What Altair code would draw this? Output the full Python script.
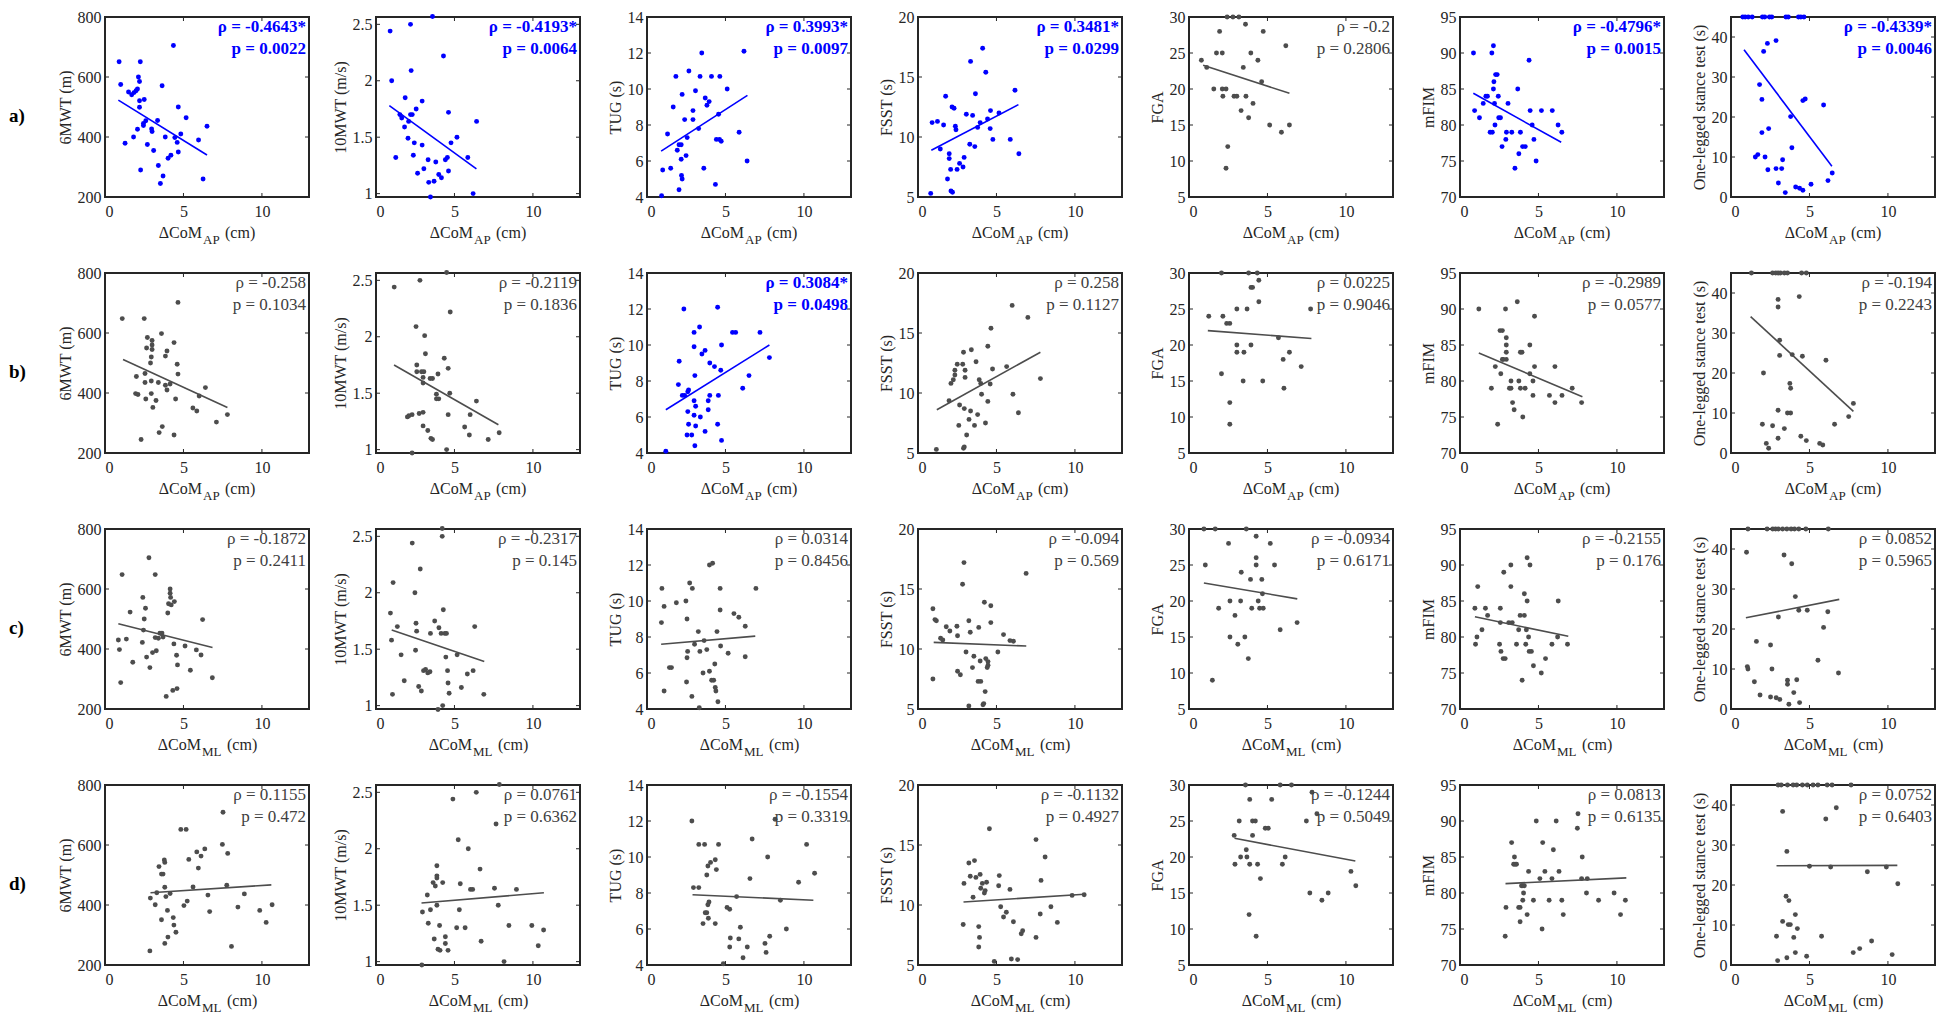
import altair as alt
import pandas as pd

FONT = "Liberation Serif"
BLUE = "#0000FF"
GRAY = "#4D4D4D"
INK = "#262626"
W, H = 204, 180

ROW_LABELS = ["a)", "b)", "c)", "d)"]
ROW_SUB = ["AP", "AP", "ML", "ML"]
Y_TITLES = ["6MWT (m)", "10MWT (m/s)", "TUG (s)", "FSST (s)", "FGA", "mFIM", "One-legged stance test (s)"]
Y_DOMAINS = [[200, 800], [0.97, 2.565], [4, 14], [5, 20], [5, 30], [70, 95], [0, 45]]
Y_TICKS = [[200, 400, 600, 800], [1, 1.5, 2, 2.5], [4, 6, 8, 10, 12, 14], [5, 10, 15, 20],
           [5, 10, 15, 20, 25, 30], [70, 75, 80, 85, 90, 95], [0, 10, 20, 30, 40]]
X_DOMAIN = [0, 13]
X_TICKS = [0, 5, 10]

RHO = [
    ["ρ = -0.4643*", "ρ = -0.4193*", "ρ = 0.3993*", "ρ = 0.3481*", "ρ = -0.2", "ρ = -0.4796*", "ρ = -0.4339*"],
    ["ρ = -0.258", "ρ = -0.2119", "ρ = 0.3084*", "ρ = 0.258", "ρ = 0.0225", "ρ = -0.2989", "ρ = -0.194"],
    ["ρ = -0.1872", "ρ = -0.2317", "ρ = 0.0314", "ρ = -0.094", "ρ = -0.0934", "ρ = -0.2155", "ρ = 0.0852"],
    ["ρ = 0.1155", "ρ = 0.0761", "ρ = -0.1554", "ρ = -0.1132", "ρ = -0.1244", "ρ = 0.0813", "ρ = 0.0752"],
]
PVAL = [
    ["p = 0.0022", "p = 0.0064", "p = 0.0097", "p = 0.0299", "p = 0.2806", "p = 0.0015", "p = 0.0046"],
    ["p = 0.1034", "p = 0.1836", "p = 0.0498", "p = 0.1127", "p = 0.9046", "p = 0.0577", "p = 0.2243"],
    ["p = 0.2411", "p = 0.145", "p = 0.8456", "p = 0.569", "p = 0.6171", "p = 0.176", "p = 0.5965"],
    ["p = 0.472", "p = 0.6362", "p = 0.3319", "p = 0.4927", "p = 0.5049", "p = 0.6135", "p = 0.6403"],
]

# fitted regression line end points: (x_start, y_start, x_end, y_end)
FIT = [
    [(0.85, 523, 6.5, 340), (0.85, 1.78, 6.4, 1.22), (0.9, 6.55, 6.4, 9.65), (0.85, 8.9, 6.4, 12.7),
     (0.9, 23.3, 6.4, 19.4), (0.85, 84.4, 6.45, 77.6), (0.83, 36.8, 6.43, 7.7)],
    [(1.15, 512, 7.8, 352), (1.15, 1.75, 7.8, 1.22), (1.2, 6.4, 7.8, 10.0), (1.2, 8.6, 7.8, 13.4),
     (1.2, 22.0, 7.8, 20.9), (1.2, 83.9, 7.8, 77.8), (1.25, 34.1, 7.8, 10.4)],
    [(0.85, 484, 6.85, 405), (1.0, 1.67, 6.9, 1.39), (0.9, 7.6, 6.9, 8.05), (1.0, 10.55, 6.9, 10.25),
     (0.95, 22.5, 6.9, 20.3), (0.95, 82.8, 6.9, 80.1), (0.95, 22.8, 6.9, 27.4)],
    [(2.9, 441, 10.6, 467), (2.9, 1.52, 10.7, 1.61), (2.9, 7.9, 10.6, 7.6), (2.9, 10.25, 10.6, 10.9),
     (2.9, 22.6, 10.6, 19.45), (2.9, 81.3, 10.6, 82.1), (2.9, 24.8, 10.6, 24.9)],
]

# ---------------- row a (ΔCoM_AP) ----------------
a_6mwt_x = [0.9, 1.0, 1.28, 1.5, 1.7, 1.85, 1.98, 2.07, 2.13, 2.2, 2.2, 2.2, 2.25, 2.27, 1.82, 2.07, 2.45, 2.45, 2.5, 2.6, 2.7, 2.97, 3.0, 3.1, 3.35, 3.4, 3.53, 3.7, 3.64, 3.84, 4.02, 4.2, 4.45, 4.36, 4.67, 4.6, 4.67, 4.83, 5.17, 5.96, 6.25, 6.5]
a_6mwt_y = [651, 575, 379, 550, 541, 548, 554, 560, 600, 585, 521, 499, 651, 290, 400, 426, 438, 445, 525, 454, 375, 427, 418, 355, 455, 305, 245, 270, 571, 400, 329, 339, 398, 705, 500, 382, 350, 410, 464, 390, 260, 436]
a_10mwt_x = [0.9, 1.0, 1.26, 1.52, 1.64, 1.86, 1.82, 2.04, 2.08, 2.2, 2.2, 2.24, 2.31, 2.38, 2.44, 2.56, 2.65, 2.94, 2.94, 3.05, 3.32, 3.36, 3.47, 3.6, 3.7, 3.81, 4.0, 4.17, 4.3, 4.42, 4.55, 4.62, 4.62, 4.78, 5.16, 5.85, 6.19, 6.41]
a_10mwt_y = [2.44, 2.0, 1.32, 1.70, 1.67, 1.85, 1.59, 1.49, 1.64, 1.70, 2.5, 2.09, 1.70, 1.34, 1.45, 1.75, 1.18, 1.82, 1.43, 1.22, 1.30, 1.10, 0.97, 2.57, 1.11, 1.28, 1.17, 1.14, 2.22, 1.30, 1.32, 1.20, 1.72, 1.45, 1.50, 1.32, 1.0, 1.64]
a_tug_x = [0.93, 1.0, 1.31, 1.51, 1.67, 1.84, 1.93, 2.04, 2.04, 2.18, 2.18, 2.2, 2.24, 2.24, 2.4, 2.49, 2.56, 2.67, 2.93, 2.93, 3.09, 3.29, 3.38, 3.49, 3.62, 3.71, 3.82, 3.96, 4.11, 4.36, 4.42, 4.56, 4.62, 4.64, 4.73, 5.11, 5.87, 6.18, 6.38]
a_tug_y = [4.07, 5.5, 7.5, 5.6, 9.0, 10.7, 6.6, 6.9, 4.4, 6.9, 6.1, 5.2, 5.0, 9.7, 8.3, 6.3, 7.3, 11.0, 8.8, 8.3, 9.9, 7.8, 10.7, 12.0, 5.6, 9.5, 9.1, 9.3, 10.7, 4.7, 7.2, 8.6, 7.2, 10.7, 7.1, 10.0, 7.6, 12.1, 6.0]
a_fsst_x = [0.81, 0.9, 1.24, 1.42, 1.63, 1.76, 1.88, 1.99, 1.99, 2.08, 2.1, 2.2, 2.17, 2.3, 2.38, 2.42, 2.49, 2.65, 2.87, 2.94, 3.08, 3.3, 3.35, 3.48, 3.62, 3.66, 3.8, 3.96, 4.12, 4.32, 4.43, 4.62, 4.6, 4.77, 5.16, 5.88, 6.18, 6.43]
a_fsst_y = [5.3, 11.2, 11.3, 9.0, 11.0, 13.4, 6.5, 8.6, 8.2, 7.3, 5.5, 5.4, 12.5, 12.4, 10.9, 10.6, 7.3, 7.8, 7.5, 8.3, 11.9, 9.4, 16.3, 11.8, 9.2, 13.6, 10.8, 11.2, 17.4, 15.4, 11.5, 12.2, 10.7, 9.8, 12.0, 9.8, 13.9, 8.6]
a_fga_x = [0.79, 1.13, 1.58, 1.95, 1.75, 2.12, 2.12, 2.16, 2.36, 2.43, 2.47, 2.36, 2.8, 3.18, 2.87, 3.05, 3.32, 3.46, 3.63, 3.6, 3.8, 3.94, 4.08, 4.39, 4.63, 4.73, 5.14, 5.89, 6.17, 6.4]
a_fga_y = [24, 23, 20, 28, 25, 25, 20, 19, 20, 30, 12, 9, 30, 30, 19, 19, 17, 23, 19, 29, 16, 25, 18, 24, 21, 28, 15, 14, 26, 15]
a_mfim_x = [0.86, 0.93, 1.24, 1.48, 1.65, 1.75, 1.92, 2.06, 2.03, 2.13, 2.13, 2.16, 2.2, 2.23, 2.27, 2.37, 2.44, 2.47, 2.58, 2.68, 2.92, 2.96, 3.06, 3.3, 3.5, 3.68, 3.75, 3.85, 3.99, 4.16, 4.4, 4.47, 4.6, 4.71, 4.85, 5.19, 5.88, 6.25, 6.49]
a_mfim_y = [90, 82, 81, 83, 84, 84, 79, 79, 90, 91, 85, 86, 83, 80, 87, 87, 84, 81, 81, 77, 78, 79, 83, 79, 74, 85, 76, 79, 77, 77, 89, 82, 80, 78, 75, 82, 82, 80, 79]
a_ols_x = [0.75, 0.9, 1.1, 1.35, 2.0, 2.15, 2.45, 2.6, 3.5, 3.65, 4.3, 4.45, 4.65,
           1.55, 1.71, 1.82, 1.97, 1.97, 2.08, 2.17, 2.32, 2.4, 2.35, 2.87, 2.87, 3.02, 3.29, 3.23, 3.46, 3.8, 3.88, 4.12, 4.37, 4.58, 4.58, 4.73, 5.1, 5.9, 6.18, 6.45]
a_ols_y = [45, 45, 45, 45, 45, 45, 45, 45, 45, 45, 45, 45, 45,
           10.0, 10.6, 28.1, 24.4, 16.1, 36.4, 10, 38.4, 17.1, 6.8, 39.1, 7.1, 3.5, 9.3, 7.1, 1.1, 20.1, 12.3, 2.5, 2.2, 1.7, 24.1, 24.5, 3.2, 23.0, 4.1, 6.0]

# ---------------- row b (ΔCoM_AP) ----------------
b_6mwt_x = [1.1, 2.0, 1.95, 2.1, 2.3, 2.5, 2.55, 2.55, 2.65, 2.7, 2.6, 2.9, 2.95, 3.0, 3.0, 3.0, 2.95, 3.05, 2.95, 3.25, 3.4, 3.45, 3.6, 3.65, 3.85, 3.95, 3.85, 3.95, 4.15, 4.4, 4.4, 4.5, 4.6, 4.65, 4.65, 6.4, 5.6, 5.85, 6.0, 7.1, 7.8]
b_6mwt_y = [648, 455, 398, 395, 245, 648, 465, 435, 550, 585, 380, 500, 520, 575, 560, 545, 398, 352, 440, 375, 435, 268, 598, 288, 523, 540, 426, 410, 430, 260, 568, 380, 496, 463, 702, 418, 350, 340, 390, 303, 328]
b_10mwt_x = [1.16, 2.8, 4.5, 4.73, 2.55, 3.1, 3.15, 4.35, 2.6, 2.6, 2.9, 3.05, 3.95, 4.6, 3.0, 3.45, 3.6, 3.0, 4.7, 3.85, 4.0, 3.85, 6.4, 2.0, 2.1, 2.3, 2.75, 3.0, 3.0, 3.3, 3.5, 3.6, 4.6, 6.0, 5.65, 5.95, 7.15, 7.85, 4.5, 2.3]
b_10mwt_y = [2.44, 2.5, 2.57, 2.22, 2.09, 2.01, 1.85, 1.81, 1.75, 1.69, 1.69, 1.69, 1.67, 1.72, 1.64, 1.63, 1.63, 1.59, 1.5, 1.49, 1.45, 1.45, 1.43, 1.29, 1.30, 1.31, 1.32, 1.33, 1.21, 1.17, 1.10, 1.09, 1.31, 1.31, 1.20, 1.13, 1.09, 1.15, 1.0, 0.97]
b_tug_x = [1.2, 2.05, 2.0, 2.25, 2.4, 2.35, 2.65, 2.6, 2.6, 2.65, 2.55, 2.85, 3.0, 3.0, 3.05, 3.0, 3.1, 3.0, 3.1, 3.05, 3.35, 3.5, 3.7, 3.4, 3.7, 3.9, 4.0, 3.9, 4.0, 4.3, 4.7, 4.5, 4.55, 4.5, 4.75, 4.75, 5.45, 5.65, 6.1, 6.5, 7.2, 7.8]
b_tug_y = [4.1, 9.1, 7.8, 7.2, 7.2, 12.0, 7.5, 7.4, 6.3, 5.6, 5.0, 5.0, 10.7, 9.9, 8.3, 6.9, 6.6, 6.1, 5.5, 4.4, 11.0, 9.5, 9.7, 6.0, 5.2, 6.4, 7.2, 6.9, 9.0, 8.8, 8.6, 12.1, 7.2, 5.6, 10.0, 4.7, 10.7, 10.7, 7.6, 8.3, 10.7, 9.3]
b_fsst_x = [1.17, 1.98, 2.1, 2.25, 2.35, 2.35, 2.5, 2.85, 2.65, 2.6, 2.9, 3.0, 3.0, 2.95, 2.9, 2.95, 3.1, 3.25, 3.35, 3.4, 3.6, 3.7, 3.8, 3.9, 4.0, 4.05, 4.3, 4.45, 4.45, 4.6, 4.65, 4.75, 5.65, 6.05, 6.0, 6.4, 7.0, 7.8]
b_fsst_y = [5.3, 9.35, 10.8, 11.1, 11.5, 11.9, 12.4, 12.4, 9.0, 7.3, 13.4, 11.9, 11.3, 8.7, 5.4, 5.5, 6.5, 7.8, 8.5, 13.6, 7.3, 12.6, 8.2, 11.1, 10.8, 9.9, 7.5, 9.3, 13.9, 10.75, 15.4, 12.0, 12.2, 9.9, 17.3, 8.35, 16.3, 11.2]
b_fga_x = [1.26, 2.07, 2.16, 2.4, 2.6, 2.07, 2.6, 2.6, 3.05, 3.05, 3.05, 3.5, 3.45, 3.7, 3.8, 4.35, 3.95, 4.05, 4.45, 4.45, 3.95, 4.7, 5.7, 6.0, 6.05, 6.4, 7.15, 7.75]
b_fga_y = [24, 30, 24, 23, 23, 16, 12, 9, 25, 20, 19, 19, 15, 25, 30, 30, 28, 28, 29, 26, 20, 15, 21, 18, 14, 19, 17, 25]
b_mfim_x = [1.2, 2.0, 2.25, 2.4, 2.55, 2.7, 2.6, 2.7, 2.75, 2.9, 2.95, 2.95, 2.95, 2.95, 3.15, 3.25, 3.25, 3.35, 3.45, 3.65, 3.75, 3.85, 3.95, 3.85, 4.0, 4.15, 4.45, 4.45, 4.65, 4.65, 4.75, 4.75, 5.7, 6.05, 6.05, 6.5, 7.15, 7.75]
b_mfim_y = [90, 79, 82, 74, 87, 87, 81, 83, 83, 90, 84, 85, 86, 83, 79, 79, 80, 77, 76, 91, 80, 84, 84, 79, 75, 79, 85, 81, 80, 78, 89, 82, 78, 82, 77, 78, 79, 77]
b_ols_x = [1.3, 2.65, 2.85, 3.0, 3.15, 3.4, 3.6, 4.5, 4.8,
           2.07, 2.0, 2.25, 2.4, 2.65, 3.0, 3.0, 3.1, 3.1, 3.0, 3.0, 3.4, 3.6, 3.8, 3.75, 3.8, 3.9, 4.35, 4.55, 4.45, 4.8, 5.65, 5.85, 6.05, 6.6, 7.5, 7.8]
b_ols_y = [45, 45, 45, 45, 45, 45, 45, 45, 45,
           20, 7.2, 2.4, 1.2, 6.8, 38.4, 36.5, 28.2, 24.4, 10.7, 3.7, 6.1, 10, 10, 17.4, 16.2, 24.6, 39.1, 24.2, 4.2, 3.1, 2.4, 2.0, 23.2, 7.2, 9.1, 12.4]

# ---------------- row c (ΔCoM_ML) ----------------
c_6mwt_x = [0.85, 0.92, 1.09, 1.0, 1.36, 1.6, 1.77, 2.41, 2.58, 2.5, 2.45, 2.38, 2.65, 2.8, 2.86, 3.03, 3.2, 3.27, 3.2, 3.4, 3.5, 3.6, 3.63, 3.7, 3.9, 4.0, 4.05, 4.15, 4.15, 4.18, 4.22, 4.42, 4.32, 4.39, 4.59, 4.56, 4.62, 5.1, 5.44, 5.82, 6.12, 6.22, 6.84]
c_6mwt_y = [430, 398, 648, 288, 433, 523, 356, 572, 536, 500, 463, 422, 373, 704, 338, 388, 648, 394, 438, 436, 453, 451, 453, 440, 242, 520, 551, 600, 586, 572, 547, 558, 262, 417, 268, 379, 347, 410, 329, 397, 380, 498, 304]
c_10mwt_x = [0.92, 0.99, 1.09, 1.05, 1.36, 1.6, 1.8, 2.31, 2.48, 2.55, 2.59, 2.52, 2.72, 2.82, 2.89, 3.03, 3.16, 3.3, 3.44, 3.47, 3.74, 3.95, 4.01, 4.15, 4.39, 4.49, 4.22, 4.22, 4.29, 4.25, 4.45, 4.56, 4.59, 4.66, 5.17, 5.44, 5.82, 6.19, 6.29, 6.87]
c_10mwt_y = [1.82, 1.58, 2.09, 1.10, 1.70, 1.45, 1.22, 2.44, 2.0, 1.73, 1.66, 1.49, 1.17, 2.21, 1.13, 1.31, 1.32, 1.29, 1.30, 1.64, 1.75, 0.965, 1.69, 1.64, 1.64, 1.64, 2.57, 2.5, 1.85, 1.0, 1.43, 1.31, 1.20, 1.11, 1.45, 1.16, 1.28, 1.31, 1.70, 1.10]
c_tug_x = [0.95, 0.92, 1.09, 1.09, 1.43, 1.56, 1.87, 2.48, 2.55, 2.55, 2.59, 2.52, 2.72, 2.89, 2.86, 3.03, 3.27, 3.33, 3.37, 3.57, 3.64, 3.81, 3.98, 4.18, 3.98, 4.12, 4.25, 4.32, 4.35, 4.39, 4.46, 4.52, 4.66, 4.66, 4.69, 5.17, 5.54, 5.85, 6.26, 6.26, 6.94]
c_tug_y = [10.7, 8.8, 9.7, 5.0, 6.3, 6.3, 9.9, 10.0, 9.0, 6.85, 7.2, 5.5, 11.0, 10.7, 4.7, 7.6, 8.3, 4.07, 7.2, 6.0, 7.8, 7.3, 12.0, 12.1, 6.1, 5.6, 5.6, 6.5, 5.2, 5.0, 8.3, 4.4, 10.7, 9.5, 7.5, 7.1, 9.3, 9.1, 8.6, 6.9, 10.7]
c_fsst_x = [0.95, 1.08, 1.17, 0.95, 1.44, 1.58, 1.8, 2.03, 2.48, 2.52, 2.52, 2.7, 2.93, 2.84, 3.06, 3.24, 3.33, 3.24, 3.47, 3.56, 3.83, 4.0, 3.87, 3.96, 4.19, 4.14, 4.28, 4.23, 4.64, 4.41, 4.46, 4.32, 4.46, 4.64, 5.09, 5.45, 5.86, 6.08, 6.89]
c_fsst_y = [13.35, 12.45, 12.35, 7.5, 10.9, 10.75, 11.85, 11.5, 11.9, 11.1, 8.15, 7.85, 17.2, 15.4, 9.75, 12.35, 11.4, 5.25, 8.45, 9.4, 7.3, 7.3, 11.8, 9.0, 5.45, 5.35, 6.45, 13.9, 13.6, 8.45, 8.65, 9.2, 8.95, 12.2, 9.75, 11.2, 10.7, 10.65, 16.3]
c_fga_x = [0.95, 1.67, 1.04, 1.49, 1.89, 2.52, 2.61, 2.61, 2.93, 3.11, 3.29, 3.33, 3.56, 3.65, 3.78, 3.92, 4.0, 4.28, 4.28, 4.28, 4.41, 4.5, 4.73, 4.64, 4.68, 5.18, 5.45, 5.81, 6.89]
c_fga_y = [30, 30, 25, 9, 19, 28, 20, 15, 18, 14, 20, 24, 15, 30, 12, 23, 19, 29, 26, 25, 20, 19, 19, 23, 21, 28, 25, 16, 17]
c_mfim_x = [0.95, 0.99, 1.08, 1.13, 1.4, 1.62, 1.76, 2.52, 2.57, 2.57, 2.61, 2.75, 2.88, 2.79, 3.11, 3.33, 3.24, 3.24, 3.6, 3.74, 3.83, 3.96, 4.1, 4.1, 4.19, 4.23, 4.37, 4.28, 4.28, 4.46, 4.41, 4.55, 4.68, 5.18, 5.45, 5.86, 6.22, 6.26, 6.85]
c_mfim_y = [84, 79, 80, 87, 81, 84, 83, 79, 84, 82, 78, 77, 77, 89, 82, 82, 90, 87, 79, 81, 83, 74, 86, 83, 79, 81, 80, 91, 85, 90, 78, 78, 76, 75, 77, 79, 80, 85, 79]
c_ols_x = [1.08, 2.3, 2.66, 2.84, 3.02, 3.29, 3.56, 3.83, 4.05, 4.32, 4.77, 6.2,
           0.99, 1.04, 1.08, 1.49, 1.62, 1.85, 2.52, 2.61, 2.52, 2.88, 3.11, 3.02, 3.38, 3.6, 3.6, 3.69, 3.87, 4.0, 4.1, 4.19, 4.32, 4.37, 4.86, 5.54, 5.9, 6.17, 6.85]
c_ols_y = [45, 45, 45, 45, 45, 45, 45, 45, 45, 45, 45, 45,
           39.2, 10.6, 10, 6.8, 16.9, 3.5, 16, 10, 3.0, 2.8, 2.4, 23, 38.5, 6.2, 7.2, 1.2, 36.3, 4.1, 28.1, 7.3, 24.7, 1.6, 24.7, 12.2, 20.4, 24.3, 9.0]

# ---------------- row d (ΔCoM_ML) ----------------
d_6mwt_x = [2.86, 2.89, 3.2, 3.3, 3.44, 3.6, 3.7, 3.6, 3.78, 3.81, 3.81, 3.88, 3.81, 3.98, 4.01, 4.15, 4.35, 4.39, 4.52, 4.83, 5.17, 5.03, 5.24, 5.34, 5.61, 5.85, 5.95, 6.12, 6.36, 6.56, 6.67, 7.48, 7.52, 7.82, 7.76, 8.06, 8.47, 8.88, 9.86, 10.27, 10.65]
d_6mwt_y = [247, 423, 401, 441, 528, 503, 503, 351, 550, 542, 459, 428, 272, 382, 293, 438, 358, 333, 309, 652, 652, 398, 413, 552, 460, 577, 523, 563, 587, 433, 378, 602, 709, 572, 466, 262, 393, 437, 382, 342, 401]
d_10mwt_x = [2.92, 2.96, 3.27, 3.33, 3.47, 3.64, 3.71, 3.78, 3.88, 3.88, 3.88, 3.88, 3.95, 4.08, 4.05, 4.25, 4.42, 4.42, 4.59, 4.9, 5.14, 5.24, 5.31, 5.37, 5.68, 5.88, 6.02, 6.16, 6.39, 6.63, 6.7, 7.55, 7.65, 7.79, 7.86, 8.16, 8.47, 8.95, 9.93, 10.34, 10.68]
d_10mwt_y = [0.97, 1.44, 1.59, 1.34, 1.46, 1.70, 1.20, 1.67, 1.76, 1.74, 1.85, 1.50, 1.11, 1.10, 1.32, 1.70, 1.22, 1.16, 1.10, 2.44, 1.30, 2.08, 1.46, 1.69, 1.30, 2.0, 1.64, 1.64, 2.5, 1.82, 1.18, 1.65, 2.22, 1.50, 2.57, 1.0, 1.32, 1.64, 1.32, 1.14, 1.28]
d_tug_x = [2.86, 2.96, 3.3, 3.3, 3.57, 3.67, 3.71, 3.81, 3.81, 3.88, 4.05, 3.88, 3.95, 3.91, 4.35, 4.35, 4.42, 4.56, 4.86, 5.1, 5.27, 5.31, 5.27, 5.71, 5.85, 5.95, 6.12, 6.39, 6.56, 6.7, 7.52, 7.59, 7.69, 7.82, 8.16, 8.5, 8.88, 9.66, 10.17, 10.68]
d_tug_y = [12.0, 8.3, 8.3, 10.7, 6.3, 10.7, 6.9, 6.9, 9.0, 9.5, 9.7, 7.35, 7.5, 6.6, 6.3, 9.85, 9.3, 10.7, 4.07, 7.2, 7.1, 5.5, 5.0, 7.8, 5.45, 6.1, 4.4, 5.0, 8.8, 11.0, 5.2, 4.7, 10.0, 5.6, 12.1, 7.6, 6.0, 8.6, 10.7, 9.1]
d_fsst_x = [2.88, 2.93, 3.24, 3.6, 3.33, 3.51, 3.69, 3.96, 3.87, 3.92, 3.87, 4.0, 4.1, 4.23, 4.28, 4.37, 4.55, 4.86, 5.14, 5.18, 5.27, 5.45, 5.63, 5.86, 5.95, 6.35, 6.08, 6.58, 6.67, 7.52, 7.52, 7.79, 7.84, 8.1, 8.47, 8.88, 9.82, 10.59]
d_fsst_y = [8.37, 11.8, 13.5, 13.7, 12.4, 10.65, 12.3, 12.55, 8.2, 7.3, 6.5, 11.4, 11.8, 11.0, 11.2, 11.9, 16.35, 5.3, 11.6, 12.45, 9.85, 9.0, 9.4, 11.3, 5.5, 5.45, 8.6, 7.6, 7.85, 7.3, 15.45, 9.25, 12.05, 14.0, 9.85, 8.55, 10.8, 10.85]
d_fga_x = [2.88, 2.93, 3.2, 3.29, 3.65, 3.69, 3.87, 3.83, 3.87, 4.05, 4.05, 4.23, 4.37, 3.6, 4.55, 4.86, 5.05, 5.27, 5.95, 6.13, 5.81, 6.53, 4.28, 7.48, 7.84, 8.15, 7.7, 8.47, 8.87, 10.32, 10.63]
d_fga_y = [23, 19, 25, 20, 21, 20, 19, 12, 28, 23, 25, 25, 19, 30, 17, 24, 24, 28, 19, 20, 30, 30, 9, 25, 29, 26, 15, 14, 15, 18, 16]
d_mfim_x = [2.88, 2.93, 3.29, 3.42, 3.51, 3.6, 3.47, 3.74, 3.83, 3.92, 4.0, 4.1, 3.83, 4.05, 4.0, 4.28, 4.37, 4.68, 4.86, 5.09, 5.27, 5.23, 5.41, 5.68, 5.86, 5.95, 6.13, 6.31, 6.49, 6.58, 7.48, 7.52, 7.79, 7.75, 8.11, 8.06, 8.83, 9.82, 10.23, 10.54]
d_mfim_y = [74, 78, 87, 84, 84, 84, 85, 78, 78, 81, 81, 81, 76, 80, 79, 77, 83, 79, 90, 82, 87, 75, 83, 79, 82, 86, 90, 83, 79, 77, 89, 91, 85, 82, 82, 80, 79, 80, 77, 79]
d_ols_x = [3.0, 3.2, 3.6, 3.96, 4.19, 4.55, 4.86, 5.23, 5.54, 6.13, 6.44, 7.65,
           2.9, 2.97, 3.29, 3.29, 3.51, 3.69, 3.56, 3.65, 3.78, 3.56, 4.1, 4.1, 4.23, 4.0, 4.82, 5.0, 5.77, 6.04, 6.35, 6.71, 7.79, 8.2, 8.69, 8.96, 9.9, 10.27, 10.63]
d_ols_y = [45, 45, 45, 45, 45, 45, 45, 45, 45, 45, 45, 45,
           7.2, 1.1, 38.4, 10.9, 17.2, 16.1, 28.4, 10.1, 10.1, 1.8, 12.6, 3.1, 9.1, 6.9, 2.2, 24.7, 7.2, 36.5, 24.5, 39.3, 3.1, 4.1, 23.3, 6.0, 24.5, 2.6, 20.3]

SERIES = [
    [(a_6mwt_x, a_6mwt_y), (a_10mwt_x, a_10mwt_y), (a_tug_x, a_tug_y), (a_fsst_x, a_fsst_y), (a_fga_x, a_fga_y), (a_mfim_x, a_mfim_y), (a_ols_x, a_ols_y)],
    [(b_6mwt_x, b_6mwt_y), (b_10mwt_x, b_10mwt_y), (b_tug_x, b_tug_y), (b_fsst_x, b_fsst_y), (b_fga_x, b_fga_y), (b_mfim_x, b_mfim_y), (b_ols_x, b_ols_y)],
    [(c_6mwt_x, c_6mwt_y), (c_10mwt_x, c_10mwt_y), (c_tug_x, c_tug_y), (c_fsst_x, c_fsst_y), (c_fga_x, c_fga_y), (c_mfim_x, c_mfim_y), (c_ols_x, c_ols_y)],
    [(d_6mwt_x, d_6mwt_y), (d_10mwt_x, d_10mwt_y), (d_tug_x, d_tug_y), (d_fsst_x, d_fsst_y), (d_fga_x, d_fga_y), (d_mfim_x, d_mfim_y), (d_ols_x, d_ols_y)],
]


def const_text(txt, x, y, size, align="left", weight="normal", color=INK, baseline="middle"):
    return alt.Chart(pd.DataFrame({"t": [txt]})).mark_text(
        align=align, baseline=baseline, font=FONT, fontSize=size, fontWeight=weight, color=color
    ).encode(text="t:N", x=alt.value(x), y=alt.value(y))


def panel(r, c):
    xs, ys = SERIES[r][c]
    n = min(len(xs), len(ys))
    df = pd.DataFrame({"x": xs[:n], "y": ys[:n]})
    fx0, fy0, fx1, fy1 = FIT[r][c]
    fit_df = pd.DataFrame({"x": [fx0, fx1], "y": [fy0, fy1]})
    sig = RHO[r][c].endswith("*")
    col = BLUE if sig else GRAY
    tcol = BLUE if sig else "#404040"
    xsc = alt.Scale(domain=X_DOMAIN, nice=False, zero=False)
    ysc = alt.Scale(domain=Y_DOMAINS[c], nice=False, zero=False)
    xaxis = alt.Axis(values=X_TICKS, title=None, ticks=False, domain=False, grid=False,
                     labelFont=FONT, labelFontSize=16, labelColor=INK, labelPadding=6)
    yaxis = alt.Axis(values=Y_TICKS[c], title=Y_TITLES[c], labelExpr="'' + datum.value",
                     ticks=False, domain=False, grid=False, labelFont=FONT, labelFontSize=16,
                     labelColor=INK, labelPadding=4, titleFont=FONT, titleFontSize=16,
                     titleFontWeight="normal", titleColor=INK, titlePadding=4)
    X = alt.X("x:Q", scale=xsc, axis=xaxis)
    Y = alt.Y("y:Q", scale=ysc, axis=yaxis)

    pts = alt.Chart(df).mark_circle(size=24, opacity=1, color=col).encode(x=X, y=Y)
    fit = alt.Chart(fit_df).mark_line(color=col, strokeWidth=1.6).encode(x=X, y=Y)

    xt = pd.DataFrame({"v": X_TICKS})
    yt = pd.DataFrame({"v": Y_TICKS[c]})
    XT = alt.X("v:Q", scale=xsc, axis=xaxis)
    YT = alt.Y("v:Q", scale=ysc, axis=yaxis)
    tb = alt.Chart(xt).mark_rule(color=INK, strokeWidth=1).encode(x=XT, y=alt.value(H), y2=alt.value(H - 4))
    tt = alt.Chart(xt).mark_rule(color=INK, strokeWidth=1).encode(x=XT, y=alt.value(0), y2=alt.value(4))
    tl = alt.Chart(yt).mark_rule(color=INK, strokeWidth=1).encode(y=YT, x=alt.value(0), x2=alt.value(4))
    tr = alt.Chart(yt).mark_rule(color=INK, strokeWidth=1).encode(y=YT, x=alt.value(W - 4), x2=alt.value(W))

    weight = "bold" if sig else "normal"
    rho_t = const_text(RHO[r][c], W - 3, 10, 17, align="right", weight=weight, color=tcol)
    p_t = const_text(PVAL[r][c], W - 3, 32, 17, align="right", weight=weight, color=tcol)

    sub = ROW_SUB[r]
    cx = W / 2
    if sub == "AP":
        d_sub, d_cm = -4, 18
    else:
        d_sub, d_cm = -5, 20
    t1 = const_text("ΔCoM", cx + d_sub - 1, H + 41, 16, align="right", baseline="alphabetic")
    t2 = const_text(sub, cx + d_sub, H + 47, 13, align="left", baseline="alphabetic")
    t3 = const_text("(cm)", cx + d_cm, H + 41, 16, align="left", baseline="alphabetic")

    layers = [pts, fit, tb, tt, tl, tr, rho_t, p_t, t1, t2, t3]
    if c == 0:
        layers.append(const_text(ROW_LABELS[r], -96, H / 2 + 9, 19, align="left", weight="bold", color="#000000"))
    return alt.layer(*layers).properties(width=W, height=H)


panels = [panel(r, c) for r in range(4) for c in range(7)]

chart = alt.concat(
    *panels, columns=7, spacing={"row": 76, "column": 67}, bounds="flush"
).properties(
    padding=0, background="white"
).configure_view(
    stroke=INK, strokeWidth=2
)

chart.save("out.html", embed_options={"renderer": "svg", "actions": False})
